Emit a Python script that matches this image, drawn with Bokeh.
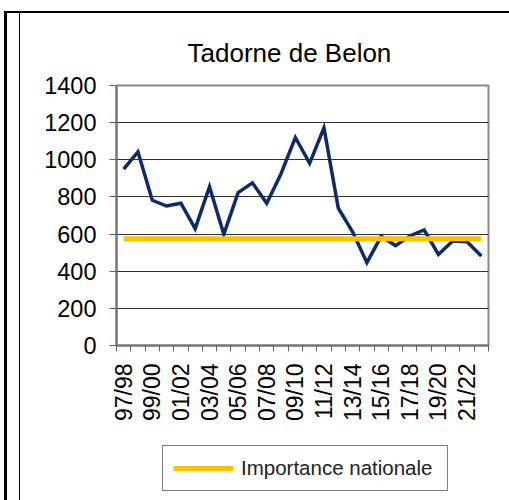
import math
from bokeh.plotting import figure
from bokeh.layouts import column
from bokeh.models import Range1d, FixedTicker, Legend, LegendItem, Title, InlineStyleSheet
from bokeh.embed import file_html
from bokeh.resources import INLINE

seasons = ["97/98", "98/99", "99/00", "00/01", "01/02", "02/03", "03/04", "04/05",
           "05/06", "06/07", "07/08", "08/09", "09/10", "10/11", "11/12", "12/13",
           "13/14", "14/15", "15/16", "16/17", "17/18", "18/19", "19/20", "20/21",
           "21/22", "22/23"]
counts = [950, 1043, 782, 751, 766, 629, 855, 599, 823, 876, 766, 925, 1120,
          981, 1172, 740, 612, 446, 588, 538, 590, 622, 490, 563, 559, 482]
national = 575
y_ticks = [0, 200, 400, 600, 800, 1000, 1200, 1400]
title_text = "Tadorne de Belon"
legend_text = "Importance nationale"

FONT = "Liberation Sans"
NAVY = "#0E2A6B"
GOLD = "#FFC000"
n = len(seasons)
xs = [i + 0.5 for i in range(n)]
label_pos = xs[::2]
overrides = {x: s for x, s in zip(xs, seasons) if x in label_pos}

TOP_H = 432
p = figure(width=509, height=TOP_H, output_backend="svg", toolbar_location=None,
           x_range=Range1d(0, n), y_range=Range1d(0, 1400),
           min_border_left=116, min_border_right=21, min_border_top=85,
           min_border_bottom=TOP_H - 345)
p.background_fill_color = "white"
p.border_fill_color = "white"
p.outline_line_color = "#888888"
p.outline_line_width = 2

# title
p.title = Title(text=title_text, align="left", offset=71, standoff=35,
                text_font=FONT, text_font_size="26px", text_font_style="normal",
                text_color="black")

# axes
p.xaxis.ticker = FixedTicker(ticks=label_pos, minor_ticks=list(range(n + 1)))
p.xaxis.major_label_overrides = overrides
p.xaxis.major_label_orientation = math.pi / 2
p.xaxis.major_tick_out = 0
p.xaxis.major_tick_in = 0
p.xaxis.minor_tick_out = 6
p.xaxis.minor_tick_in = 0
p.xaxis.minor_tick_line_color = "#606060"
p.xaxis.minor_tick_line_width = 1
p.xaxis.axis_line_color = "#707070"
p.xaxis.axis_line_width = 2
p.xaxis.major_label_standoff = 12
p.xaxis.major_label_text_font = FONT
p.xaxis.major_label_text_font_size = "23px"
p.xaxis.major_label_text_color = "black"

p.yaxis.ticker = FixedTicker(ticks=y_ticks, minor_ticks=[])
p.yaxis.major_tick_out = 7
p.yaxis.major_tick_in = 0
p.yaxis.major_tick_line_color = "#606060"
p.yaxis.major_tick_line_width = 1
p.yaxis.minor_tick_line_color = None
p.yaxis.axis_line_color = "#707070"
p.yaxis.axis_line_width = 2
p.yaxis.major_label_standoff = 13
p.yaxis.major_label_text_font = FONT
p.yaxis.major_label_text_font_size = "23.5px"
p.yaxis.major_label_text_color = "black"

p.xgrid.grid_line_color = None
p.ygrid.ticker = FixedTicker(ticks=y_ticks)
p.ygrid.grid_line_color = "#303030"
p.ygrid.grid_line_width = 1

# series
p.line(xs, counts, line_color=NAVY, line_width=3.5, line_join="miter")
p.line([xs[0], xs[-1]], [national, national], line_color=GOLD, line_width=5)

# legend strip below the chart (separate small figure, frames aligned with the chart)
p2 = figure(width=509, height=500 - TOP_H, output_backend="svg", toolbar_location=None,
            x_axis_type=None, y_axis_type=None,
            x_range=Range1d(0, 1), y_range=Range1d(0, 1),
            min_border_left=0, min_border_right=0, min_border_top=0, min_border_bottom=0)
p2.outline_line_color = None
p2.background_fill_color = "white"
p2.border_fill_color = "white"
p2.xgrid.grid_line_color = None
p2.ygrid.grid_line_color = None
# same series style, lies outside this strip's range, so only its legend entry shows
nat_proxy = p2.line([xs[0], xs[-1]], [national, national], line_color=GOLD, line_width=5)

legend = Legend(items=[LegendItem(label=legend_text, renderers=[nat_proxy])],
                location=(46, 9), orientation="vertical",
                border_line_color="black", border_line_width=1,
                background_fill_color="white", background_fill_alpha=1,
                padding=10, margin=0, spacing=0,
                glyph_width=60, glyph_height=24, label_height=24,
                label_width=196, label_standoff=8,
                label_text_font=FONT, label_text_font_size="20.5px",
                label_text_color="#222222")
p2.add_layout(legend, "center")

layout = column(p, p2, spacing=0)
layout.stylesheets = [InlineStyleSheet(css="""
:host { position: relative; }
:host::before { content: ''; position: absolute; left: 4px; top: 11px; right: 0; bottom: 0;
  border-top: 2px solid black; border-left: 3px solid black; pointer-events: none; z-index: 10; }
:host::after { content: ''; position: absolute; left: 19px; top: 12px; width: 0; bottom: 0;
  border-left: 1px solid black; pointer-events: none; z-index: 10; }
""")]

open("out.html", "w").write(file_html(layout, INLINE))
